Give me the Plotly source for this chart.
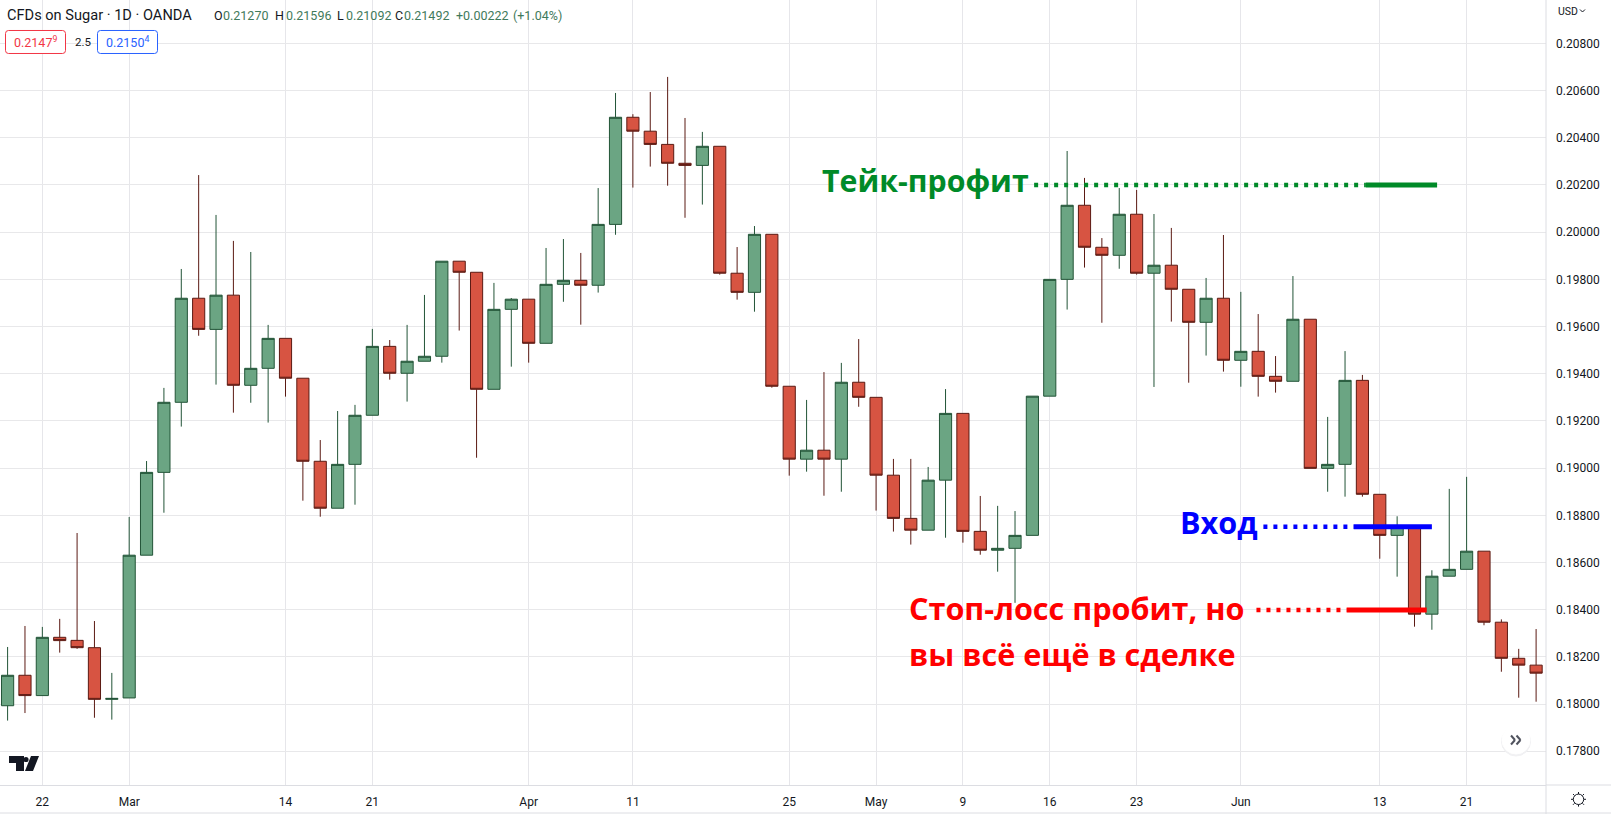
import plotly.graph_objects as go

W, H = 1611, 814
PLOT_R, PLOT_B = 1546, 785

open_ = [.17993,.18122,.18036,.18283,.18270,.18239,.18020,.18026,.18631,.18982,.19279,.19720,.19588,.19733,.19351,.19423,.19550,.19381,.19029,.18830,.19016,.19224,.19516,.19402,.19453,.19474,.19877,.19830,.19334,.19673,.19716,.19529,.19779,.19796,.19775,.20033,.20487,.20428,.20372,.20292,.20283,.20364,.19826,.19745,.19991,.19347,.19038,.19076,.19038,.19364,.19300,.18970,.18787,.18737,.18949,.19232,.18732,.18652,.18660,.18715,.19305,.19800,.20114,.19936,.19902,.20076,.19826,.19860,.19758,.19618,.19720,.19457,.19495,.19389,.19368,.19631,.18999,.19016,.19372,.18889,.18715,.18751,.18381,.18542,.18571,.18648,.18347,.18194,.18165]
high = [.18242,.18331,.18327,.18361,.18725,.18352,.18132,.18793,.19030,.19340,.19844,.20242,.20073,.19963,.19916,.19607,.19550,.19381,.19119,.19242,.19268,.19590,.19543,.19607,.19734,.19877,.19877,.19830,.19785,.19721,.19716,.19933,.19971,.19912,.20187,.20590,.20500,.20594,.20658,.20484,.20425,.20364,.19937,.20026,.19991,.19347,.19289,.19407,.19446,.19547,.19300,.19039,.19039,.19005,.19335,.19232,.18882,.18840,.18818,.19305,.19800,.20344,.20230,.19975,.20187,.20179,.20077,.20018,.19758,.19806,.19988,.19747,.19653,.19475,.19814,.19631,.19217,.19496,.19395,.18889,.18796,.18751,.18567,.18912,.18963,.18648,.18359,.18234,.18318]
low = [.17930,.17962,.18036,.18218,.18234,.17942,.17934,.18026,.18631,.18811,.19176,.19561,.19354,.19235,.19277,.19193,.19303,.18862,.18794,.18830,.18845,.19224,.19375,.19282,.19453,.19447,.19583,.19044,.19334,.19430,.19447,.19529,.19705,.19608,.19744,.19989,.20189,.20278,.20197,.20061,.20117,.19820,.19714,.19663,.19341,.18968,.18985,.18883,.18900,.19260,.18820,.18731,.18676,.18737,.18705,.18684,.18633,.18561,.18429,.18715,.19305,.19672,.19850,.19616,.19845,.19820,.19344,.19621,.19362,.19477,.19409,.19345,.19303,.19320,.19368,.18999,.18900,.18879,.18879,.18616,.18540,.18328,.18315,.18542,.18571,.18334,.18137,.18027,.18010]
close = [.18122,.18036,.18283,.18269,.18239,.18020,.18024,.18631,.18982,.19279,.19720,.19588,.19733,.19351,.19423,.19550,.19381,.19029,.18830,.19016,.19224,.19516,.19402,.19453,.19474,.19877,.19830,.19334,.19673,.19716,.19529,.19779,.19796,.19775,.20033,.20487,.20428,.20372,.20292,.20283,.20364,.19826,.19745,.19991,.19347,.19038,.19076,.19038,.19364,.19300,.18970,.18787,.18737,.18949,.19232,.18732,.18652,.18660,.18715,.19305,.19800,.20114,.19936,.19902,.20076,.19826,.19860,.19758,.19618,.19720,.19457,.19495,.19389,.19368,.19631,.18999,.19016,.19372,.18889,.18715,.18751,.18381,.18542,.18571,.18648,.18347,.18194,.18165,.18131]
bars = list(range(len(open_)))

date_ticks = [2, 7, 16, 21, 30, 36, 45, 50, 55, 60, 65, 71, 79, 84]
date_labels = ["22", "Mar", "14", "21", "Apr", "11", "25", "May", "9", "16", "23", "Jun", "13", "21"]
price_ticks = [.178, .180, .182, .184, .186, .188, .190, .192, .194, .196, .198, .200, .202, .204, .206, .208]

take_dotted_x, take_solid_x, take_price = [59.1, 78.2], [78.2, 82.3], .202
entry_dotted_x, entry_solid_x, entry_price = [72.3, 77.5], [77.5, 82.0], .18751
stop_dotted_x, stop_solid_x, stop_price = [71.9, 77.1], [77.1, 81.7], .18399

GREEN, GREEN_LINE = "#6ba583", "#225437"
RED, RED_LINE = "#d75442", "#5b1a13"
TEXT = "#131722"
GRID_H, GRID_V = "#e8e8ea", "#e6e6ea"
AXIS = "#dcdde2"
FONT = "Roboto"
LABEL_FONT = "Open Sans"


def px(x):
    return x / PLOT_R


def py(y):
    return (PLOT_B - y) / PLOT_B


fig = go.Figure()
fig.add_trace(go.Candlestick(
    x=bars, open=open_, high=high, low=low, close=close,
    whiskerwidth=0, hoverinfo="skip", showlegend=False,
    increasing=dict(fillcolor=GREEN, line=dict(color=GREEN_LINE, width=1)),
    decreasing=dict(fillcolor=RED, line=dict(color=RED_LINE, width=1)),
))


def level(xs_dot, xs_solid, price, color):
    fig.add_trace(go.Scatter(x=xs_dot, y=[price, price], mode="lines", showlegend=False, hoverinfo="skip",
                             line=dict(color=color, width=4.5, dash="4px,6px")))
    fig.add_trace(go.Scatter(x=xs_solid, y=[price, price], mode="lines", showlegend=False, hoverinfo="skip",
                             line=dict(color=color, width=5)))


level(take_dotted_x, take_solid_x, take_price, "#008a28")
level(entry_dotted_x, entry_solid_x, entry_price, "#0000ff")
level(stop_dotted_x, stop_solid_x, stop_price, "#ff0000")

shapes = []


def rect(x0, y0, x1, y1, fill="white", layer="above"):
    shapes.append(dict(type="rect", xref="paper", yref="paper", x0=px(x0), x1=px(x1), y0=py(y1), y1=py(y0),
                       fillcolor=fill, line=dict(color="rgba(0,0,0,0)", width=0), layer=layer))


def seg(x0, y0, x1, y1, color, lw=1):
    shapes.append(dict(type="line", xref="paper", yref="paper", x0=px(x0), x1=px(x1), y0=py(y0), y1=py(y1),
                       line=dict(color=color, width=lw), layer="above"))


def poly(points, fill):
    d = "M " + " L ".join(f"{px(a):.5f} {py(b):.5f}" for a, b in points) + " Z"
    shapes.append(dict(type="path", xref="paper", yref="paper", path=d, fillcolor=fill,
                       line=dict(width=0), layer="above"))


def circle(cx, cy, r, fill, line, lw=1):
    shapes.append(dict(type="circle", xref="paper", yref="paper", x0=px(cx - r), x1=px(cx + r),
                       y0=py(cy + r), y1=py(cy - r), fillcolor=fill, line=dict(color=line, width=lw), layer="above"))


def round_box(x0, y0, x1, y1, r, color):
    p = lambda a, b: f"{px(a):.5f} {py(b):.5f}"
    d = (f"M {p(x0 + r, y0)} L {p(x1 - r, y0)} Q {p(x1, y0)} {p(x1, y0 + r)} L {p(x1, y1 - r)} "
         f"Q {p(x1, y1)} {p(x1 - r, y1)} L {p(x0 + r, y1)} Q {p(x0, y1)} {p(x0, y1 - r)} "
         f"L {p(x0, y0 + r)} Q {p(x0, y0)} {p(x0 + r, y0)} Z")
    shapes.append(dict(type="path", xref="paper", yref="paper", path=d, fillcolor="white",
                       line=dict(color=color, width=1), layer="above"))


# white masks that hide the grid behind the hand-written labels
rect(812, 165, 1033, 206, layer="between")
rect(1158, 503, 1262, 541, layer="between")
rect(910, 586, 1258, 676, layer="between")

# chrome
seg(PLOT_R, 0, PLOT_R, 814, AXIS)
seg(PLOT_R, PLOT_B, 1611, PLOT_B, AXIS)
seg(0, 813, 1611, 813, AXIS)
round_box(5.5, 30.5, 65.5, 53.5, 3, "#f23645")
round_box(97.5, 30.5, 157.5, 53.5, 3, "#2962ff")
# TradingView mark
poly([(9, 756), (24, 756), (24, 771), (16, 771), (16, 763), (9, 763)], TEXT)
circle(26, 759.5, 2.6, TEXT, TEXT, 0)
poly([(31, 756), (39, 756), (33, 771), (25, 771)], TEXT)
# scroll button
circle(1516, 741.5, 14.5, "#f1f1f3", "#f1f1f3", 1)
circle(1516, 740, 14, "white", "white", 1)
for dx in (0, 5.5):
    seg(1511 + dx, 735.5, 1515 + dx, 740, "#50535e", 2)
    seg(1515 + dx, 740, 1511 + dx, 744.5, "#50535e", 2)
# settings icon
circle(1578.5, 799.3, 5.2, "white", TEXT, 1)
for a, b, c, d in [(1578.5, 792, 1578.5, 794), (1578.5, 804.6, 1578.5, 806.6), (1571, 799.3, 1573, 799.3),
                   (1584, 799.3, 1586, 799.3), (1573, 794, 1574.5, 795.5), (1582.5, 803.3, 1584, 804.8),
                   (1584, 794, 1582.5, 795.5), (1574.5, 803.3, 1573, 804.8)]:
    seg(a, b, c, d, TEXT, 1)
# currency chevron
seg(1580, 9.5, 1582.5, 12, TEXT, 1)
seg(1582.5, 12, 1585, 9.5, TEXT, 1)

ann = []


def label(x, y, text, size, color, bold=False, family=FONT):
    ann.append(dict(xref="paper", yref="paper", x=px(x), y=py(y), text=f"<b>{text}</b>" if bold else text,
                    xanchor="left", yanchor="middle", showarrow=False, align="left", borderpad=0,
                    font=dict(family=family, size=size, color=color)))


VAL = "#3f7a5b"
label(6, 15, "CFDs on Sugar · 1D · OANDA", 14.6, TEXT)
for x, letter, xv, value in [(212.5, "O", 222, "0.21270"), (274, "H", 284.5, "0.21596"),
                             (336, "L", 345, "0.21092"), (394, "C", 403, "0.21492")]:
    label(x, 16, letter, 12.5, TEXT)
    label(xv, 16, value, 12.5, VAL)
label(455, 16, "+0.00222", 12.5, VAL)
label(512, 16, "(+1.04%)", 12.5, VAL)
label(13, 42, "0.2147<sup>9</sup>", 12.5, "#f23645")
label(74, 42, "2.5", 11.5, TEXT)
label(105, 42, "0.2150<sup>4</sup>", 12.5, "#2962ff")
label(1557, 11.5, "USD", 10.5, TEXT)

label(820.5, 181, "Тейк-профит", 30.3, "#008a28", bold=True, family=LABEL_FONT)
label(1179, 522, "Вход", 30.6, "#0000ff", bold=True, family=LABEL_FONT)
label(908, 608, "Стоп-лосс пробит, но", 30.6, "#ff0000", bold=True, family=LABEL_FONT)
label(908, 654, "вы всё ещё в сделке", 30.6, "#ff0000", bold=True, family=LABEL_FONT)

fig.update_layout(
    width=W, height=H, margin=dict(l=0, r=W - PLOT_R, t=0, b=H - PLOT_B, pad=0),
    paper_bgcolor="white", plot_bgcolor="white", showlegend=False,
    shapes=shapes, annotations=ann, hovermode=False,
    boxgap=0.3, boxgroupgap=0,
    font=dict(family=FONT, size=12, color=TEXT),
    xaxis=dict(range=[-0.4375, 88.57], tickmode="array", tickvals=date_ticks, ticktext=date_labels,
               showgrid=True, gridcolor=GRID_V, gridwidth=1, zeroline=False, showline=True,
               linecolor=AXIS, linewidth=1, ticks="", rangeslider=dict(visible=False),
               tickangle=0, ticklabelstandoff=6, tickfont=dict(family=FONT, size=12, color=TEXT)),
    yaxis=dict(range=[.17657, .20984], side="right", tickmode="array", tickvals=price_ticks,
               tickformat=".5f", showgrid=True, gridcolor=GRID_H, gridwidth=1, zeroline=False,
               showline=False, ticks="", ticklabelstandoff=9,
               tickfont=dict(family=FONT, size=12, color=TEXT)),
)
fig.write_html("out.html", config=dict(displayModeBar=False),
               post_script="document.body.style.margin='0';document.body.style.overflow='hidden';")
